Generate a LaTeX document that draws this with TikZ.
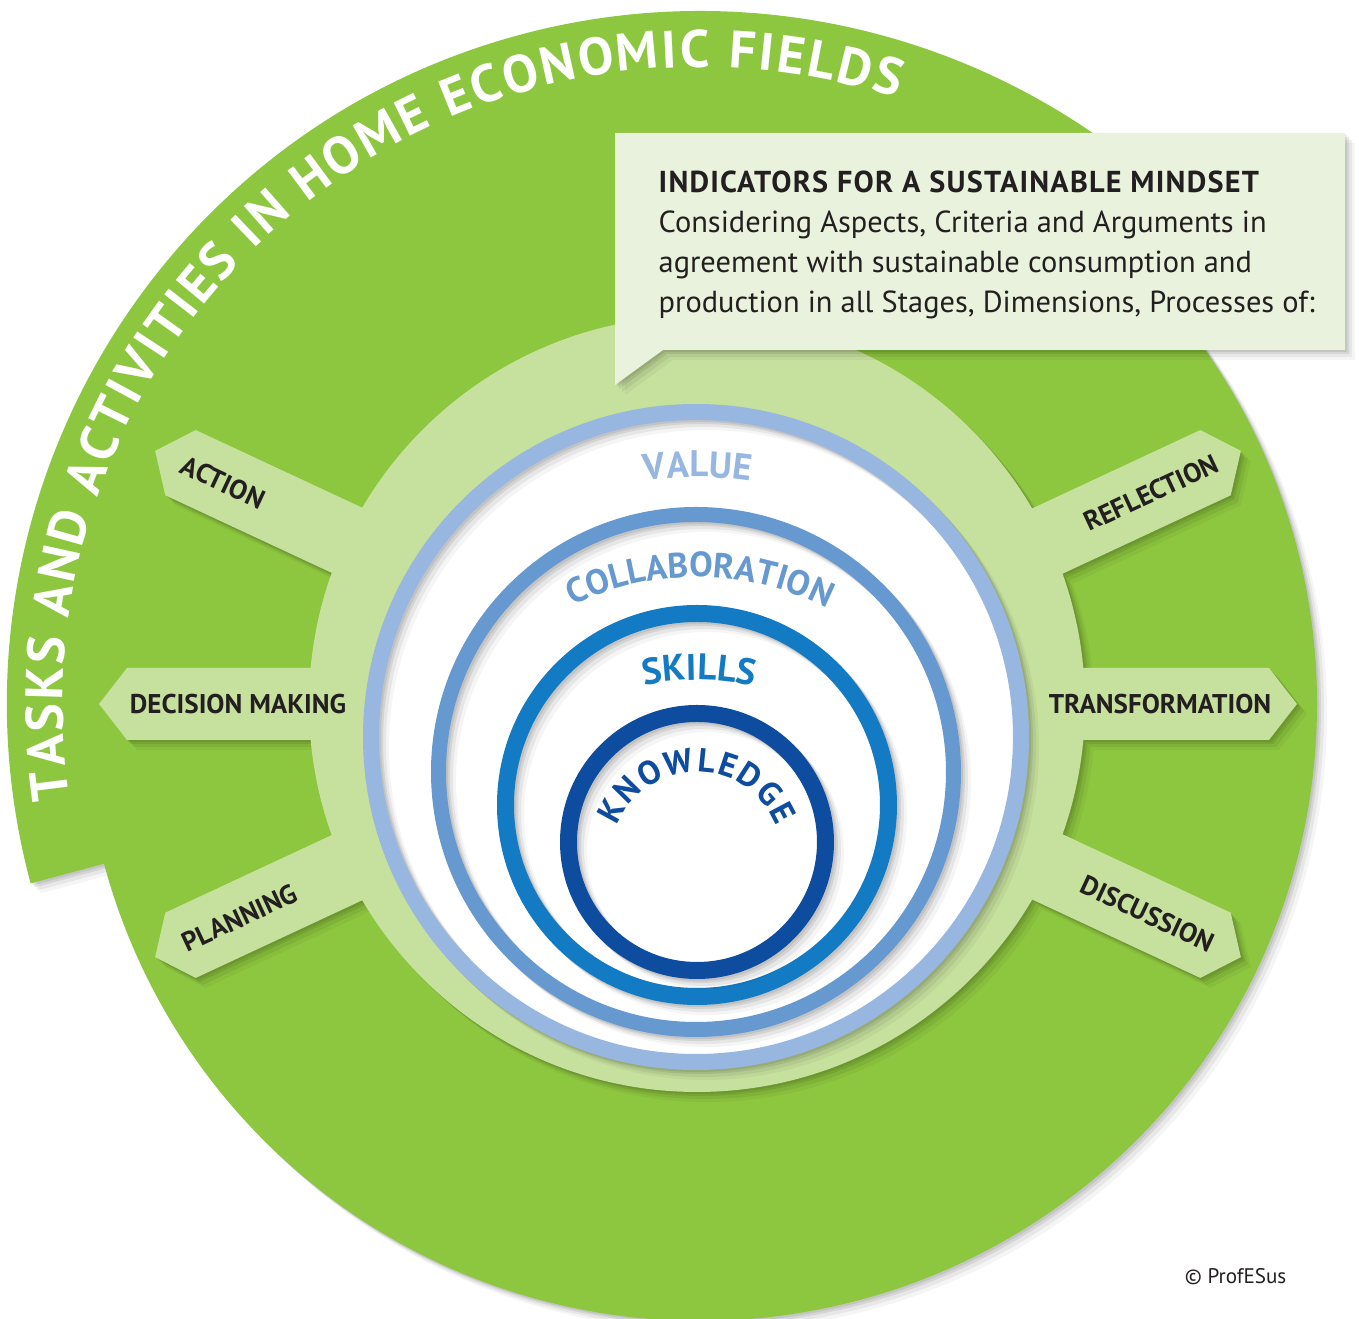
\documentclass[tikz,border=0pt]{standalone}
\usepackage{fontspec}
\setmainfont{PT Sans}
\usetikzlibrary{decorations.text}

\definecolor{fieldgreen}{HTML}{8DC63F}
\definecolor{ringgreen}{HTML}{C6E09E}
\definecolor{boxgreen}{HTML}{E8F2DC}
\definecolor{valueblue}{HTML}{97B7E0}
\definecolor{collabblue}{HTML}{6699CF}
\definecolor{skillblue}{HTML}{137BC3}
\definecolor{knowblue}{HTML}{0E4C9F}
\definecolor{inkdark}{HTML}{231F20}

% soft shadow: a few offset copies, each one a transparency group
\newcommand{\castshadow}[1]{%
  \foreach \s/\o in {10/0.04,7/0.06,4/0.08,2/0.08} {
    \begin{scope}[transparency group, opacity=\o, shift={(\s,-\s)}]
      #1
    \end{scope}}}
% outer field: full circle plus the title band on the left and top
\newcommand{\fieldshape}{([shift={(195:693)}]700,-704) arc[start angle=195, end angle=40, radius=693]
  -- ([shift={(40:617)}]700,-704) arc[start angle=40, end angle=-165, radius=617] -- cycle}
\newcommand{\bubbleshape}{(615,-133) -- (1345,-133) -- (1345,-350) -- (663,-350) -- (615,-385) -- cycle}
\newcommand{\signshape}{(698,-740) -- (1269,-740) -- (1297,-704) -- (1269,-668) -- (698,-668) -- cycle}

\begin{document}
\begin{tikzpicture}[x=0.01cm, y=0.01cm,
    signlabel/.style={inner sep=0pt, text=inkdark, font=\fontsize{7.7pt}{9pt}\selectfont\bfseries},
    boxline/.style={anchor=base west, inner sep=0pt, text=inkdark, font=\fontsize{8.65pt}{10pt}\selectfont},
    arcword/.style={decorate, decoration={text along path, text align=fit to path, text={#1}}}
  ]
  \useasboundingbox (0,0) rectangle (1359,-1319);

  % Field: green circle with the title band
  \castshadow{\fill[black] \fieldshape;}
  \fill[fieldgreen] \fieldshape;
  \path[arcword={|\color{white}\fontsize{15pt}{15pt}\selectfont\bfseries|TASKS AND ACTIVITIES IN HOME ECONOMIC FIELDS}]
    ([shift={(188.5:637)}]700,-704) arc[start angle=188.5, end angle=72, radius=637];

  % Ring with the six signposts
  \castshadow{\fill[black] (697,-704) circle (388);
    \foreach \a in {0,25,-25,155,180,205} \fill[black, rotate around={\a:(698,-704)}] \signshape;}
  \fill[ringgreen] (697,-704) circle (388);
  \foreach \a in {0,25,-25,155,180,205}
    \fill[ringgreen, rotate around={\a:(698,-704)}] \signshape;

  % Speech bubble
  \castshadow{\fill[black] \bubbleshape;}
  \fill[boxgreen] \bubbleshape;

  % White core and the four rings
  \fill[white] (696,-737) circle (325);
  \foreach \c/\x/\y/\r/\w in {valueblue/696/737/325/16, collabblue/696/772/257.5/15,
      skillblue/697/805/191.5/17, knowblue/697/842/128.5/17} {
    \castshadow{\draw[black, line width=\w*0.01cm] (\x,-\y) circle (\r);}
    \draw[\c, line width=\w*0.01cm] (\x,-\y) circle (\r);
  }

  % Ring labels
  \path[arcword={|\color{valueblue}\fontsize{10.5pt}{11pt}\selectfont\bfseries|VALUE}]
    ([shift={(98.55:350)}]697,-827) arc[start angle=98.55, end angle=81.45, radius=350];
  \path[arcword={|\color{collabblue}\fontsize{10pt}{11pt}\selectfont\bfseries|COLLABORATION}]
    ([shift={(115.7:288)}]697,-865) arc[start angle=115.7, end angle=63.8, radius=288];
  \path[arcword={|\color{skillblue}\fontsize{10.5pt}{11pt}\selectfont\bfseries|SKILLS}]
    ([shift={(101.65:260)}]697,-940) arc[start angle=101.65, end angle=78.35, radius=260];
  \path[arcword={|\color{knowblue}\fontsize{9.5pt}{11pt}\selectfont\bfseries|KNOWLEDGE}]
    ([shift={(158:86)}]697,-858) arc[start angle=158, end angle=22, radius=86];

  % Signpost labels
  \node[signlabel] (transformation) at ([shift={(0:462)}]698,-704) {TRANSFORMATION};
  \node[signlabel] (decision) at ([shift={(180:460)}]698,-704) {DECISION MAKING};
  \node[signlabel, rotate=25] (reflection) at ([shift={(25:500)}]698,-704) {REFLECTION};
  \node[signlabel, rotate=-25] (discussion) at ([shift={(-25:496)}]698,-704) {DISCUSSION};
  \node[signlabel, rotate=-25] (action) at ([shift={(155:524)}]698,-704) {ACTION};
  \node[signlabel, rotate=25] (planning) at ([shift={(205:506)}]698,-704) {PLANNING};

  % Bubble text
  \node[boxline, font=\fontsize{8.6pt}{10pt}\selectfont\bfseries\addfontfeature{LetterSpace=4}] (boxtitle) at (658,-193) {INDICATORS FOR A SUSTAINABLE MINDSET};
  \node[boxline] (boxline1) at (658,-233) {Considering Aspects, Criteria and Arguments in};
  \node[boxline] (boxline2) at (658,-273) {agreement with sustainable consumption and};
  \node[boxline] (boxline3) at (658,-313) {production in all Stages, Dimensions, Processes of:};

  \node[anchor=base east, inner sep=0pt, text=inkdark, font=\fontsize{6pt}{7pt}\selectfont] (copyright) at (1287,-1284) {\textcopyright{} ProfESus};
\end{tikzpicture}
\end{document}
